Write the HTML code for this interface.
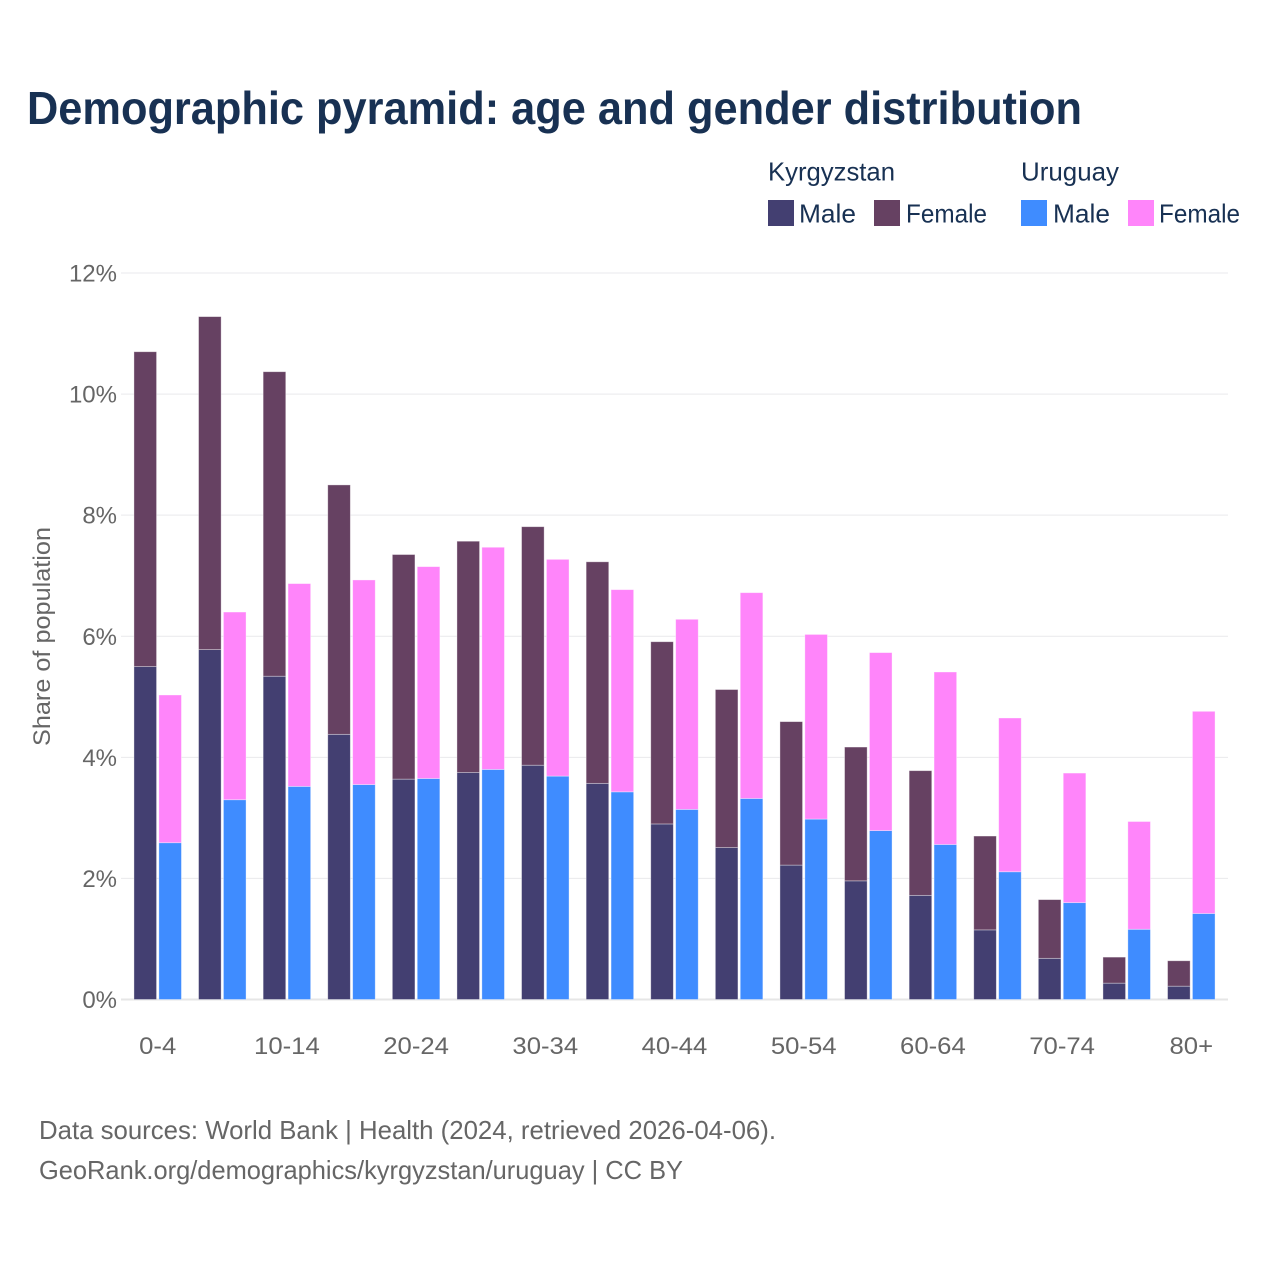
<!DOCTYPE html>
<html lang="en">
<head>
<meta charset="utf-8">
<title>Demographic pyramid: age and gender distribution</title>
<style>
html,body{margin:0;padding:0;background:#fff;}
svg{display:block;}
text{font-family:"Liberation Sans",sans-serif;}
</style>
</head>
<body>
<svg id="chart" width="1280" height="1280" viewBox="0 0 1280 1280" xmlns="http://www.w3.org/2000/svg">
  <rect x="0" y="0" width="1280" height="1280" fill="#ffffff"/>
  <text x="27" y="124" font-size="46" font-weight="700" fill="#183153" textLength="1055" lengthAdjust="spacingAndGlyphs">Demographic pyramid: age and gender distribution</text>

  <g font-size="26" fill="#183153">
    <text x="768" y="180.5" textLength="127" lengthAdjust="spacingAndGlyphs">Kyrgyzstan</text>
    <text x="1021" y="180.5" textLength="98" lengthAdjust="spacingAndGlyphs">Uruguay</text>
    <rect x="768" y="200" width="26" height="26" fill="#433F71"/>
    <text x="799" y="222.5" textLength="57" lengthAdjust="spacingAndGlyphs">Male</text>
    <rect x="874" y="200" width="26" height="26" fill="#664162"/>
    <text x="906" y="222.5" textLength="81" lengthAdjust="spacingAndGlyphs">Female</text>
    <rect x="1021" y="200" width="26" height="26" fill="#3F8CFF"/>
    <text x="1053" y="222.5" textLength="57" lengthAdjust="spacingAndGlyphs">Male</text>
    <rect x="1128" y="200" width="26" height="26" fill="#FF85FA"/>
    <text x="1159" y="222.5" textLength="81" lengthAdjust="spacingAndGlyphs">Female</text>
  </g>

  <g id="grid"></g>
  <g id="yticks"></g>
  <g id="bars"></g>
  <g id="xticks"></g>

  <text transform="translate(50 636.5) rotate(-90)" text-anchor="middle" font-size="24" fill="#666666" textLength="219" lengthAdjust="spacingAndGlyphs">Share of population</text>

  <text x="39" y="1139" font-size="26" fill="#666666" textLength="737" lengthAdjust="spacingAndGlyphs">Data sources: World Bank | Health (2024, retrieved 2026-04-06).</text>
  <text x="39" y="1179" font-size="26" fill="#666666" textLength="644" lengthAdjust="spacingAndGlyphs">GeoRank.org/demographics/kyrgyzstan/uruguay | CC BY</text>
</svg>
<script>
const categories = ['0-4','5-9','10-14','15-19','20-24','25-29','30-34','35-39','40-44','45-49','50-54','55-59','60-64','65-69','70-74','75-79','80+'];
const kyrgyzstanMale = [5.50,5.78,5.34,4.38,3.64,3.75,3.87,3.57,2.90,2.51,2.22,1.96,1.72,1.15,0.68,0.27,0.22];
const kyrgyzstanFemale = [5.20,5.50,5.03,4.12,3.71,3.82,3.94,3.66,3.01,2.61,2.37,2.21,2.06,1.55,0.97,0.43,0.42];
const uruguayMale = [2.59,3.30,3.52,3.55,3.65,3.80,3.69,3.43,3.14,3.32,2.98,2.79,2.56,2.11,1.60,1.16,1.42];
const uruguayFemale = [2.44,3.10,3.35,3.38,3.50,3.67,3.58,3.34,3.14,3.40,3.05,2.94,2.85,2.54,2.14,1.78,3.34];
const yTickValues = [0,2,4,6,8,10,12];
const yTickLabels = ['0%','2%','4%','6%','8%','10%','12%'];
const xTickLabels = ['0-4','10-14','20-24','30-34','40-44','50-54','60-64','70-74','80+'];

const NS = 'http://www.w3.org/2000/svg';
const yZero = 999.5, yPerUnit = 60.54;
const xFirst = 157.7, xStep = 64.6;
const barWidth = 22.6, barGap = 2.3;
const gridLeft = 121, gridRight = 1228;

function yScale(v){ return yZero - v * yPerUnit; }
function xScale(i){ return xFirst + i * xStep; }
function make(tag, parentId, attrs, text){
  const el = document.createElementNS(NS, tag);
  for (const k in attrs) el.setAttribute(k, attrs[k]);
  if (text !== undefined) el.textContent = text;
  document.getElementById(parentId).appendChild(el);
  return el;
}
function barSegment(x, base, value, fill){
  return make('rect', 'bars', {
    x: x, y: yScale(base + value), width: barWidth,
    height: yScale(base) - yScale(base + value),
    fill: fill, stroke: '#ffffff', 'stroke-opacity': 0.45, 'stroke-width': 0.8
  });
}

yTickValues.forEach(function(v, i){
  const line = make('line', 'grid', {x1: gridLeft, x2: gridRight, y1: yScale(v), y2: yScale(v), stroke: v === 0 ? '#e6e6e6' : '#e9e9ec', 'stroke-width': v === 0 ? 2 : 1});
  
  
  const label = make('text', 'yticks', {x: 117, y: yScale(v) + 8.5, 'text-anchor': 'end', 'font-size': 24, fill: '#666666'}, yTickLabels[i]);
  
  
});

categories.forEach(function(cat, i){
  const cx = xScale(i);
  const xLeft = cx - barGap / 2 - barWidth;
  const xRight = cx + barGap / 2;

  const km = barSegment(xLeft, 0, kyrgyzstanMale[i], '#433F71');
  
  
  const kf = barSegment(xLeft, kyrgyzstanMale[i], kyrgyzstanFemale[i], '#664162');
  
  
  const um = barSegment(xRight, 0, uruguayMale[i], '#3F8CFF');
  
  
  const uf = barSegment(xRight, uruguayMale[i], uruguayFemale[i], '#FF85FA');
  
  

  if (xTickLabels.indexOf(cat) !== -1) {
    const tick = make('text', 'xticks', {x: cx, y: 1054, 'text-anchor': 'middle', 'font-size': 24, fill: '#666666'}, cat);
    
    
    tick.setAttribute('textLength', (tick.getComputedTextLength() * 1.07).toFixed(1));
    tick.setAttribute('lengthAdjust', 'spacingAndGlyphs');
  }
});
</script>
</body>
</html>
